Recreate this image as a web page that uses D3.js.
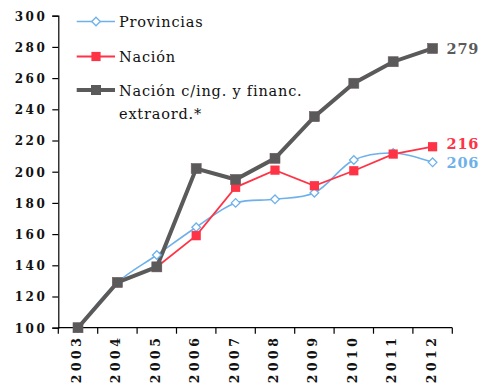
<!DOCTYPE html>
<html>
<head>
<meta charset="utf-8">
<script src="https://cdn.jsdelivr.net/npm/d3@7"></script>
<style>
  html, body { margin: 0; padding: 0; background: #fff; }
  svg { display: block; }
</style>
</head>
<body>
<svg id="chart" width="483" height="383"></svg>
<script>
const years = ["2003","2004","2005","2006","2007","2008","2009","2010","2011","2012"];
const provincias = [100, 129, 146.6, 164.4, 180, 182.3, 186.5, 207.5, 212, 206];
const nacion = [100, 129, 139, 159, 190, 201, 191, 200.6, 211.3, 216];
const nacionExtra = [100, 129, 139, 202, 195, 208.6, 235.3, 256.7, 270.5, 279];
const yTicks = [100, 120, 140, 160, 180, 200, 220, 240, 260, 280, 300];
const seriesNames = ["Provincias", "Nación", "Nación c/ing. y financ.", "extraord.*"];
const endLabels = ["206", "216", "279"];

const FONT = "'DejaVu Serif', serif";
const BLUE = "#6eb1ea", RED = "#ff3346", GRAY = "#5a5a5a";

const svg = d3.select("#chart");
const x = d3.scaleBand().domain(years).range([58.3, 452.3]).paddingInner(0).paddingOuter(0);
const y = d3.scaleLinear().domain([100, 300]).range([327.7, 15.7]);
const cx = d => x(d) + x.bandwidth() / 2;

// Y axis
const yAxis = svg.append("g").attr("transform", "translate(58.3,0)")
  .call(d3.axisLeft(y).tickValues(yTicks).tickSize(6).tickPadding(5).tickFormat(d3.format("d")));
yAxis.select(".domain").attr("stroke", "#000").attr("stroke-width", 1.2);
yAxis.selectAll(".tick line").attr("stroke", "#000").attr("stroke-width", 1.2);
yAxis.selectAll("text").attr("font-family", FONT).attr("font-weight", "bold")
  .attr("font-size", 12).attr("letter-spacing", "2.5px").attr("fill", "#111").attr("dy", "0.36em");

// X axis line + ticks at boundaries
const xg = svg.append("g");
xg.append("line").attr("x1", x.range()[0]).attr("x2", x.range()[1])
  .attr("y1", y(100)).attr("y2", y(100)).attr("stroke", "#000").attr("stroke-width", 1.2);
const bounds = years.map(d => x(d)).concat([x(years[years.length - 1]) + x.bandwidth()]);
xg.selectAll("line.tk").data(bounds).join("line").attr("class", "tk")
  .attr("x1", d => d).attr("x2", d => d).attr("y1", y(100)).attr("y2", y(100) + 6)
  .attr("stroke", "#000").attr("stroke-width", 1.2);
xg.selectAll("text").data(years).join("text")
  .attr("transform", d => `translate(${cx(d) - 1.5},${334.5}) rotate(-90)`)
  .attr("text-anchor", "end").attr("dy", "0.36em")
  .attr("font-family", FONT).attr("font-weight", "bold").attr("font-size", 12.5)
  .attr("letter-spacing", "3.5px").attr("fill", "#111").text(d => d);

// Lines
const idx = d3.range(years.length);
const lineStraight = vals => d3.line().x(i => cx(years[i])).y(i => y(vals[i]))(idx);
const lineSmooth = vals => d3.line().curve(d3.curveCatmullRom.alpha(0.5)).x(i => cx(years[i])).y(i => y(vals[i]))(idx);

svg.append("path").attr("d", lineSmooth(provincias)).attr("fill", "none").attr("stroke", BLUE).attr("stroke-width", 1.6);
svg.append("path").attr("d", lineStraight(nacion)).attr("fill", "none").attr("stroke", RED).attr("stroke-width", 1.8);
svg.append("path").attr("d", lineStraight(nacionExtra)).attr("fill", "none").attr("stroke", GRAY).attr("stroke-width", 4);

// Markers
const diamond = (g, px, py, s) => g.append("path")
  .attr("d", `M${px},${py - s}L${px + s},${py}L${px},${py + s}L${px - s},${py}Z`)
  .attr("fill", "#fff").attr("stroke", BLUE).attr("stroke-width", 1.3);
const mk = svg.append("g");
idx.forEach(i => diamond(mk, cx(years[i]), y(provincias[i]), 4.3));
mk.selectAll("rect.r").data(idx).join("rect").attr("class", "r")
  .attr("x", i => cx(years[i]) - 4.6).attr("y", i => y(nacion[i]) - 4.6)
  .attr("width", 9.2).attr("height", 9.2).attr("fill", RED);
mk.selectAll("rect.g").data(idx).join("rect").attr("class", "g")
  .attr("x", i => cx(years[i]) - 5).attr("y", i => y(nacionExtra[i]) - 5)
  .attr("width", 10).attr("height", 10).attr("fill", GRAY).attr("stroke", "#6a5a5e").attr("stroke-width", 0.6);

// End labels
const last = years.length - 1;
const endX = 446.5;
[[provincias, BLUE, endLabels[0]], [nacion, RED, endLabels[1]], [nacionExtra, GRAY, endLabels[2]]].forEach(([vals, col, t], k) => {
  let yy = y(vals[last]);
  if (k === 0) yy += 0.5;
  if (k === 1) yy -= 2.5;
  svg.append("text").attr("x", endX).attr("y", yy).attr("dy", "0.36em")
    .attr("font-family", FONT).attr("font-weight", "bold").attr("font-size", 14.5)
    .attr("letter-spacing", "0.8px").attr("fill", col).text(t);
});

// Legend
const lg = svg.append("g");
const lx1 = 76.7, lx2 = 115, lmid = 96, tx = 119;
lg.append("line").attr("x1", lx1).attr("x2", lx2).attr("y1", 21.5).attr("y2", 21.5).attr("stroke", BLUE).attr("stroke-width", 1.6);
diamond(lg, lmid, 21.5, 4.3);
lg.append("line").attr("x1", lx1).attr("x2", lx2).attr("y1", 56.5).attr("y2", 56.5).attr("stroke", RED).attr("stroke-width", 1.8);
lg.append("rect").attr("x", lmid - 4.6).attr("y", 56.5 - 4.6).attr("width", 9.2).attr("height", 9.2).attr("fill", RED);
lg.append("line").attr("x1", lx1).attr("x2", lx2).attr("y1", 90).attr("y2", 90).attr("stroke", GRAY).attr("stroke-width", 4);
lg.append("rect").attr("x", lmid - 5).attr("y", 90 - 5).attr("width", 10).attr("height", 10).attr("fill", GRAY);

const legendText = [[seriesNames[0], 26.5], [seriesNames[1], 61.5], [seriesNames[2], 96], [seriesNames[3], 118.5]];
legendText.forEach(([t, by]) => {
  lg.append("text").attr("x", tx).attr("y", by)
    .attr("font-family", FONT).attr("font-size", 14.5).attr("letter-spacing", "0.8px")
    .attr("fill", "#111").text(t);
});
</script>
</body>
</html>
